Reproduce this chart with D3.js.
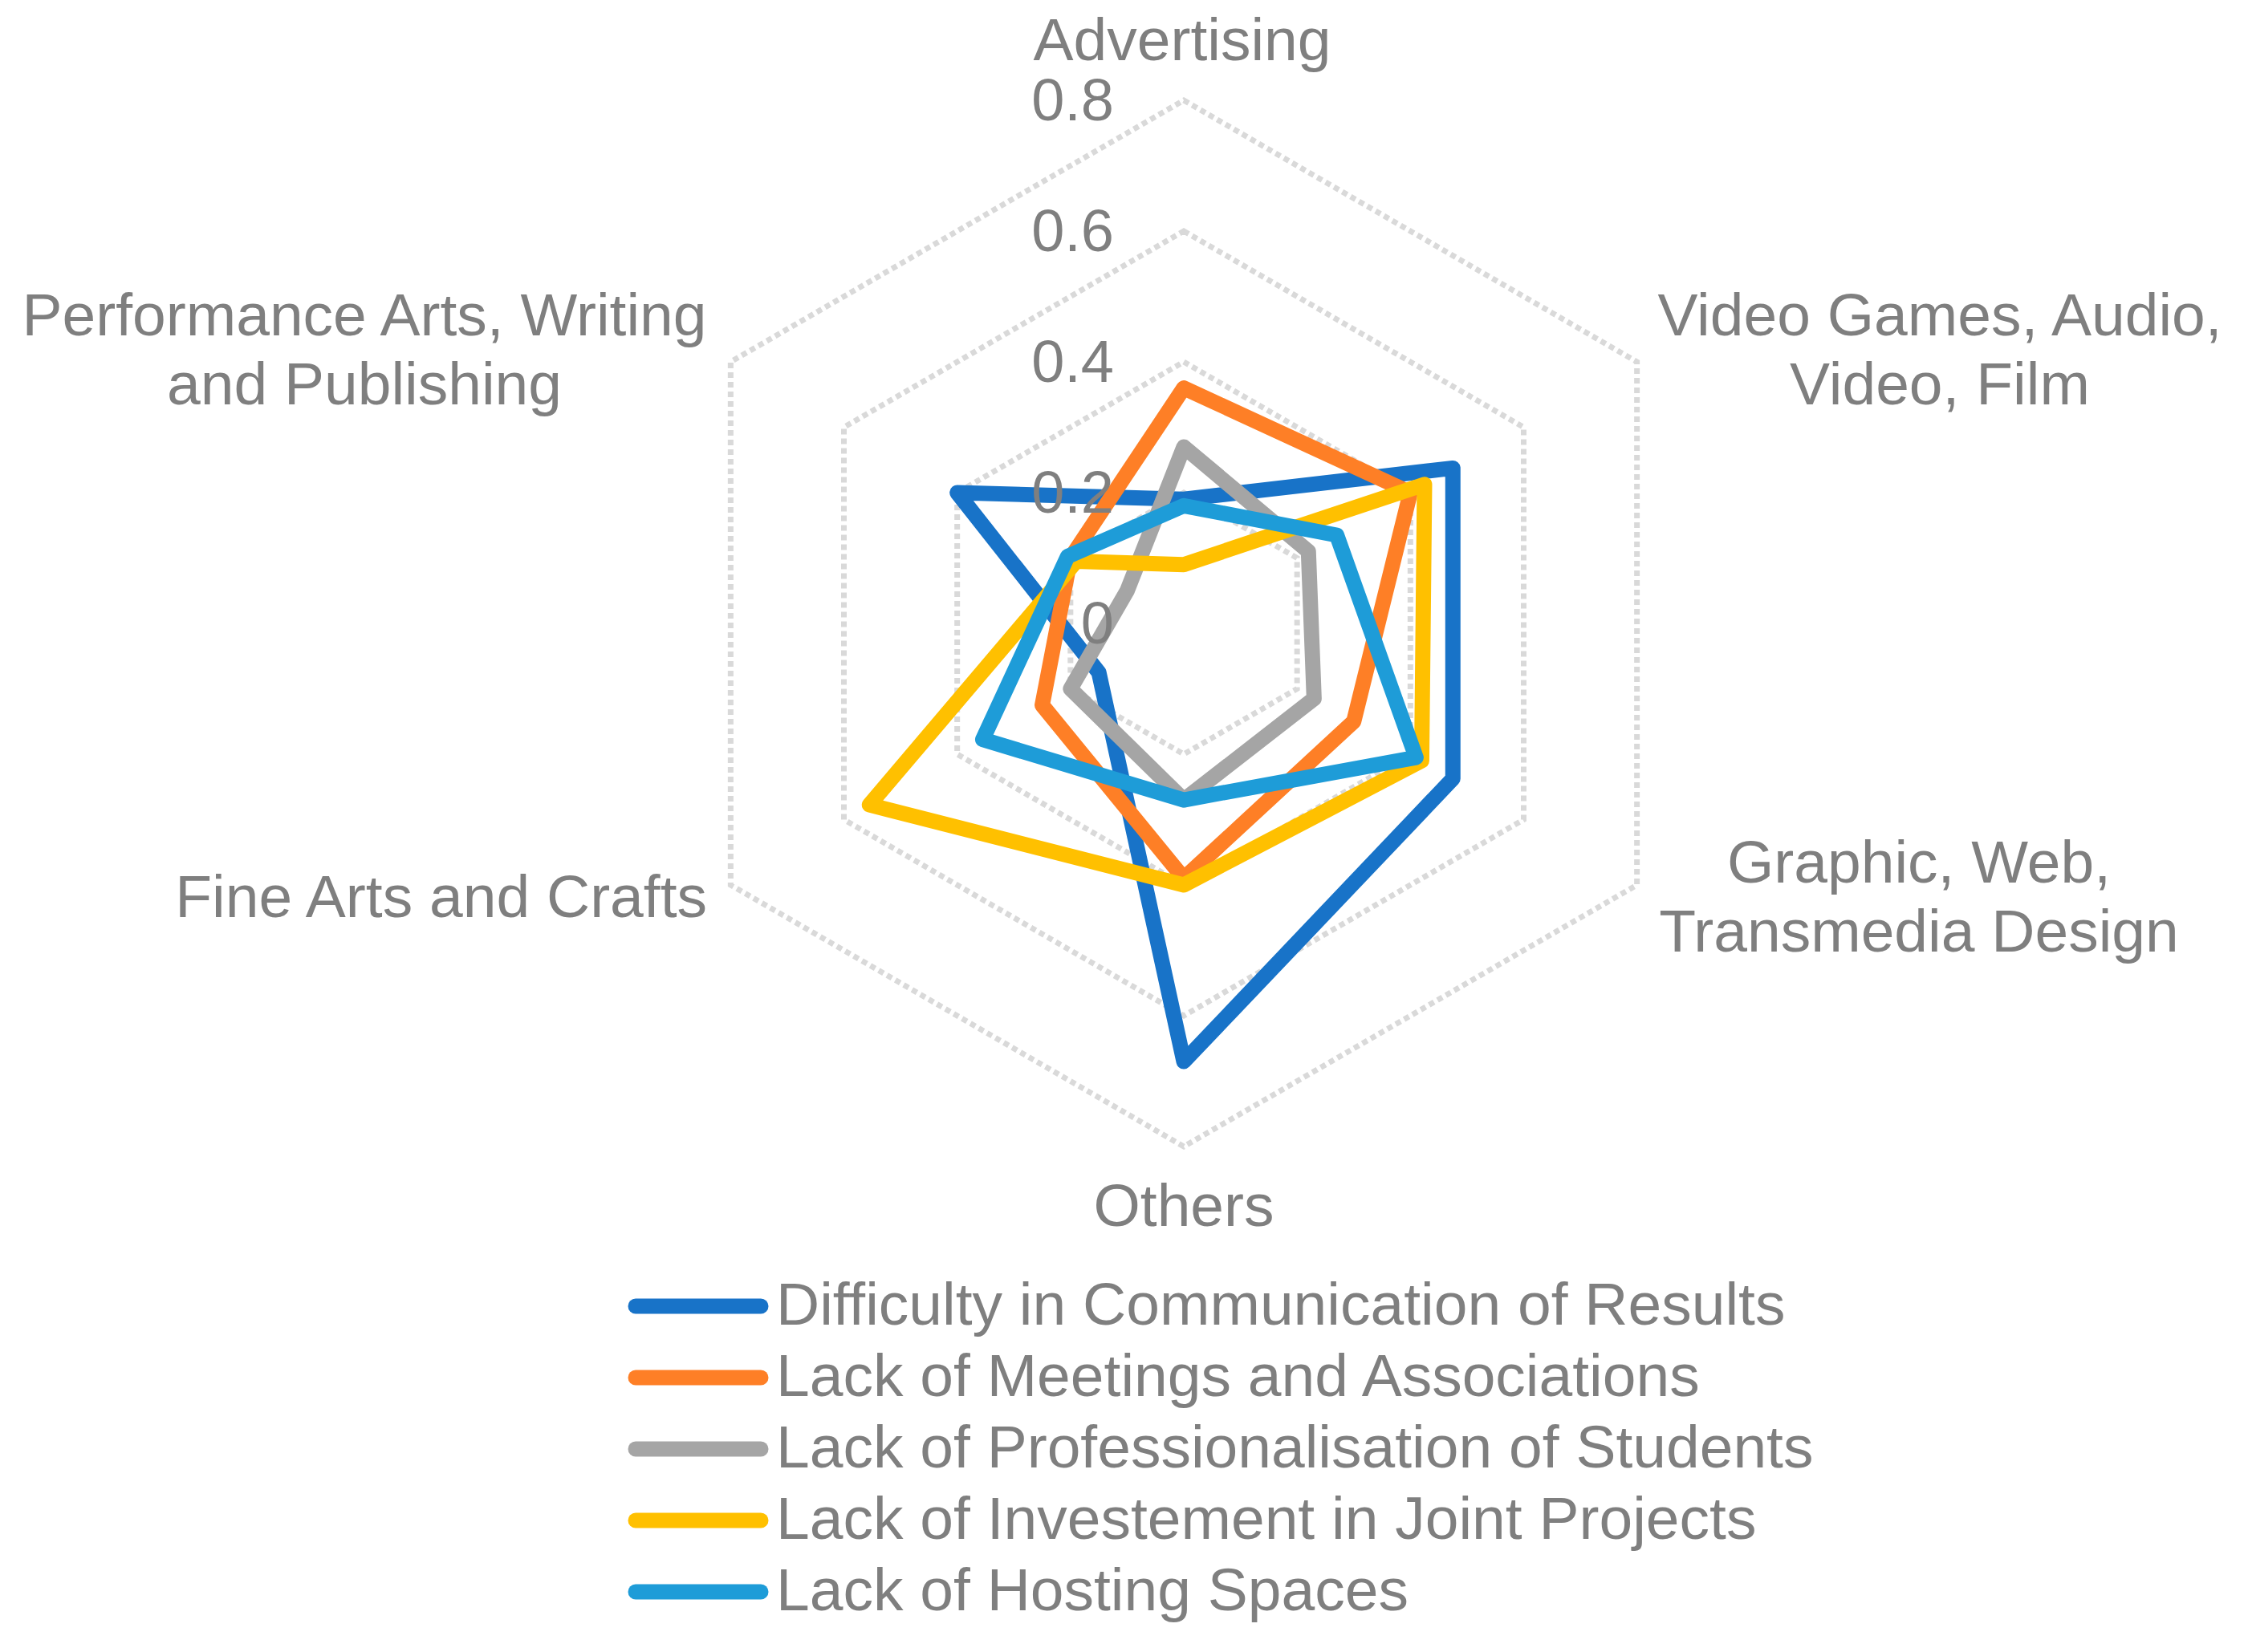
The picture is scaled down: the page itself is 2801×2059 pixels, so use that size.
<!DOCTYPE html>
<html>
<head>
<meta charset="utf-8">
<script src="https://cdn.jsdelivr.net/npm/d3@7"></script>
<style>
  html, body { margin: 0; padding: 0; background: #ffffff; }
  svg { display: block; }
  text { font-family: "Liberation Sans", Arial, sans-serif; fill: #7f7f7f; }
</style>
</head>
<body>
<svg id="chart" width="2801" height="2059"></svg>
<script>
// ---- data ----
const categories = [
  "Advertising",
  "Video Games, Audio, Video, Film",
  "Graphic, Web, Transmedia Design",
  "Others",
  "Fine Arts and Crafts",
  "Performance Arts, Writing and Publishing"
];
const seriesNames = [
  "Difficulty in Communication of Results",
  "Lack of Meetings and Associations",
  "Lack of Professionalisation of Students",
  "Lack of Investement in Joint Projects",
  "Lack of Hosting Spaces"
];
const difficultyValues      = [0.19, 0.475, 0.475, 0.67, 0.15, 0.40];
const meetingsValues        = [0.36, 0.40, 0.30, 0.39, 0.25, 0.20];
const professionalValues    = [0.27, 0.22, 0.23, 0.27, 0.20, 0.10];
const investmentValues      = [0.09, 0.425, 0.42, 0.40, 0.555, 0.19];
const hostingValues         = [0.18, 0.27, 0.41, 0.27, 0.355, 0.205];
const tickValues = [0, 0.2, 0.4, 0.6, 0.8];
const tickLabels = ["0", "0.2", "0.4", "0.6", "0.8"];

const seriesColors = ["#1873C8", "#FE7F26", "#A5A5A5", "#FFC000", "#1E9CD8"];
const allSeries = [difficultyValues, meetingsValues, professionalValues, investmentValues, hostingValues];

// ---- layout ----
const cx = 1475, cy = 777, R = 652;
const fontSize = 75;
const svg = d3.select("#chart");
const r = d3.scaleLinear().domain([0, 0.8]).range([0, R]);
const angle = d3.scalePoint().domain(d3.range(categories.length)).range([0, 2 * Math.PI * (categories.length - 1) / categories.length]);

const g = svg.append("g").attr("transform", `translate(${cx},${cy})`);

const radial = d3.lineRadial()
  .angle((d, i) => angle(i))
  .radius(d => r(d))
  .curve(d3.curveLinearClosed);

// grid rings
g.append("g").selectAll("path")
  .data(tickValues.filter(v => v > 0))
  .join("path")
  .attr("d", v => radial(categories.map(() => v)))
  .attr("fill", "none")
  .attr("stroke", "#d9d9d9")
  .attr("stroke-width", 7)
  .attr("stroke-dasharray", "7,5");

// series
g.append("g").selectAll("path")
  .data(allSeries)
  .join("path")
  .attr("d", d => radial(d))
  .attr("fill", "none")
  .attr("stroke", (d, i) => seriesColors[i])
  .attr("stroke-width", 19)
  .attr("stroke-linejoin", "round")
  .attr("stroke-linecap", "round");

// tick labels
g.append("g").selectAll("text")
  .data(tickValues)
  .join("text")
  .attr("x", -87)
  .attr("y", v => -r(v) + 25)
  .attr("text-anchor", "end")
  .attr("font-size", 74)
  .text((v, i) => tickLabels[i]);

// category labels (Excel-like placement)
const labelLayout = [
  { x: 1473, y: 75,   anchor: "middle", lines: ["Advertising"] },
  { x: 2417, y: 418,  anchor: "middle", lines: ["Video Games, Audio,", "Video, Film"] },
  { x: 2391, y: 1100, anchor: "middle", lines: ["Graphic, Web,", "Transmedia Design"] },
  { x: 1475, y: 1528, anchor: "middle", lines: ["Others"] },
  { x: 881,  y: 1143, anchor: "end",    lines: ["Fine Arts and Crafts"] },
  { x: 454,  y: 418,  anchor: "middle", lines: ["Performance Arts, Writing", "and Publishing"] }
];
const catG = svg.append("g");
categories.forEach((c, i) => {
  const L = labelLayout[i];
  const t = catG.append("text")
    .attr("x", L.x).attr("y", L.y)
    .attr("text-anchor", L.anchor)
    .attr("font-size", fontSize);
  L.lines.forEach((ln, j) => {
    t.append("tspan").attr("x", L.x).attr("dy", j === 0 ? 0 : 86).text(ln);
  });
});

// legend
const legend = svg.append("g");
const legY0 = 1628, legStep = 89;
const rows = legend.selectAll("g").data(seriesNames).join("g")
  .attr("transform", (d, i) => `translate(0,${legY0 + i * legStep})`);
rows.append("line")
  .attr("x1", 792).attr("x2", 948).attr("y1", 0).attr("y2", 0)
  .attr("stroke", (d, i) => seriesColors[i])
  .attr("stroke-width", 19)
  .attr("stroke-linecap", "round");
rows.append("text")
  .attr("x", 967).attr("y", 23)
  .attr("font-size", fontSize)
  .text(d => d);
</script>
</body>
</html>
